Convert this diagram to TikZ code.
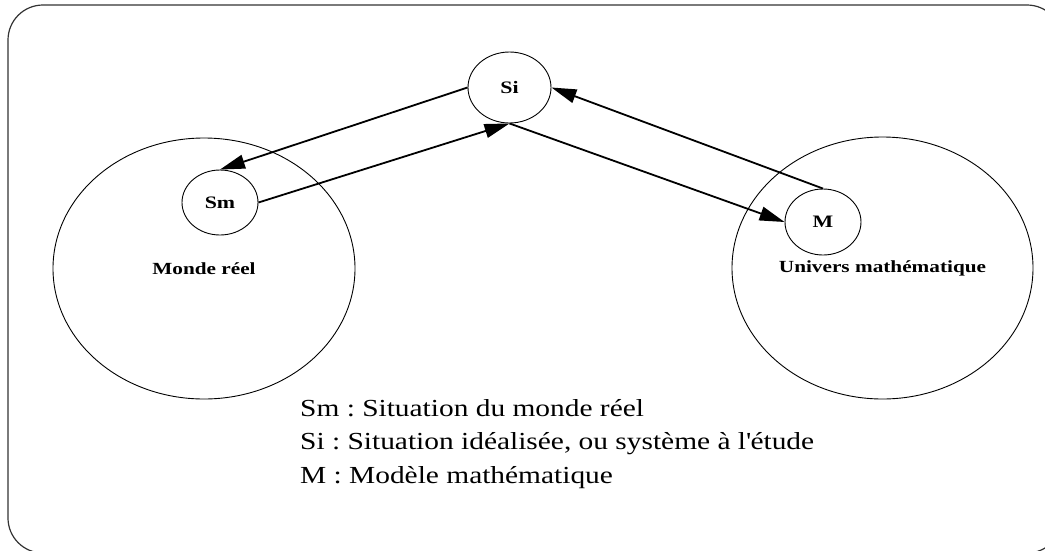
\documentclass[tikz,border=0pt]{standalone}
\usepackage{fontspec}
\setmainfont{Liberation Serif}
\newfontfamily\lblfont[FakeStretch=1.25]{Liberation Serif}
\newfontfamily\legfont[FakeStretch=1.2]{Liberation Serif}
\usetikzlibrary{shapes.geometric,arrows.meta}
\begin{document}
\begin{tikzpicture}[x=1pt,y=-1pt,
  world/.style={draw,ellipse,line width=0.9pt,inner sep=0pt,font=\lblfont\bfseries\fontsize{17}{20}\selectfont},
  small/.style={draw,ellipse,line width=0.9pt,inner sep=0pt,font=\lblfont\bfseries\fontsize{17.5}{20}\selectfont},
  link/.style={line width=1.8pt,-{Triangle[length=25pt,width=14pt]}},
  legend/.style={anchor=base west,inner sep=0pt,font=\legfont\frenchspacing\fontsize{24.5}{28}\selectfont}]
\useasboundingbox (0,0) rectangle (1045,550);
\begin{scope}
\clip (0,0) rectangle (1045,550);
\draw[line width=1.2pt,black!80,rounded corners=35pt] (8,5) rectangle (1062,553);
\end{scope}
\node[world,minimum width=302pt,minimum height=261pt] (monde) at (204,268.5) {Monde réel};
\node[world,minimum width=301pt,minimum height=262pt] (univers) at (882.5,268) {Univers mathématique};
\node[small,minimum width=76pt,minimum height=65pt] (sm) at (220,202.5) {Sm};
\node[small,minimum width=83pt,minimum height=71pt] (si) at (509.5,87.5) {Si};
\node[small,minimum width=76pt,minimum height=66pt] (m) at (823,222) {M};
\draw[link] (si.west) -- (sm.north);
\draw[link] (sm.east) -- (si.south);
\draw[link] (si.south) -- (m.west);
\draw[link] (m.north) -- (si.east);
\node[legend] (l1) at (300,416) {Sm : Situation du monde réel};
\node[legend] (l2) at (300,449.5) {Si : Situation idéalisée, ou système à l\textquotesingle étude};
\node[legend] (l3) at (300,483) {M : Modèle mathématique};
\end{tikzpicture}
\end{document}
